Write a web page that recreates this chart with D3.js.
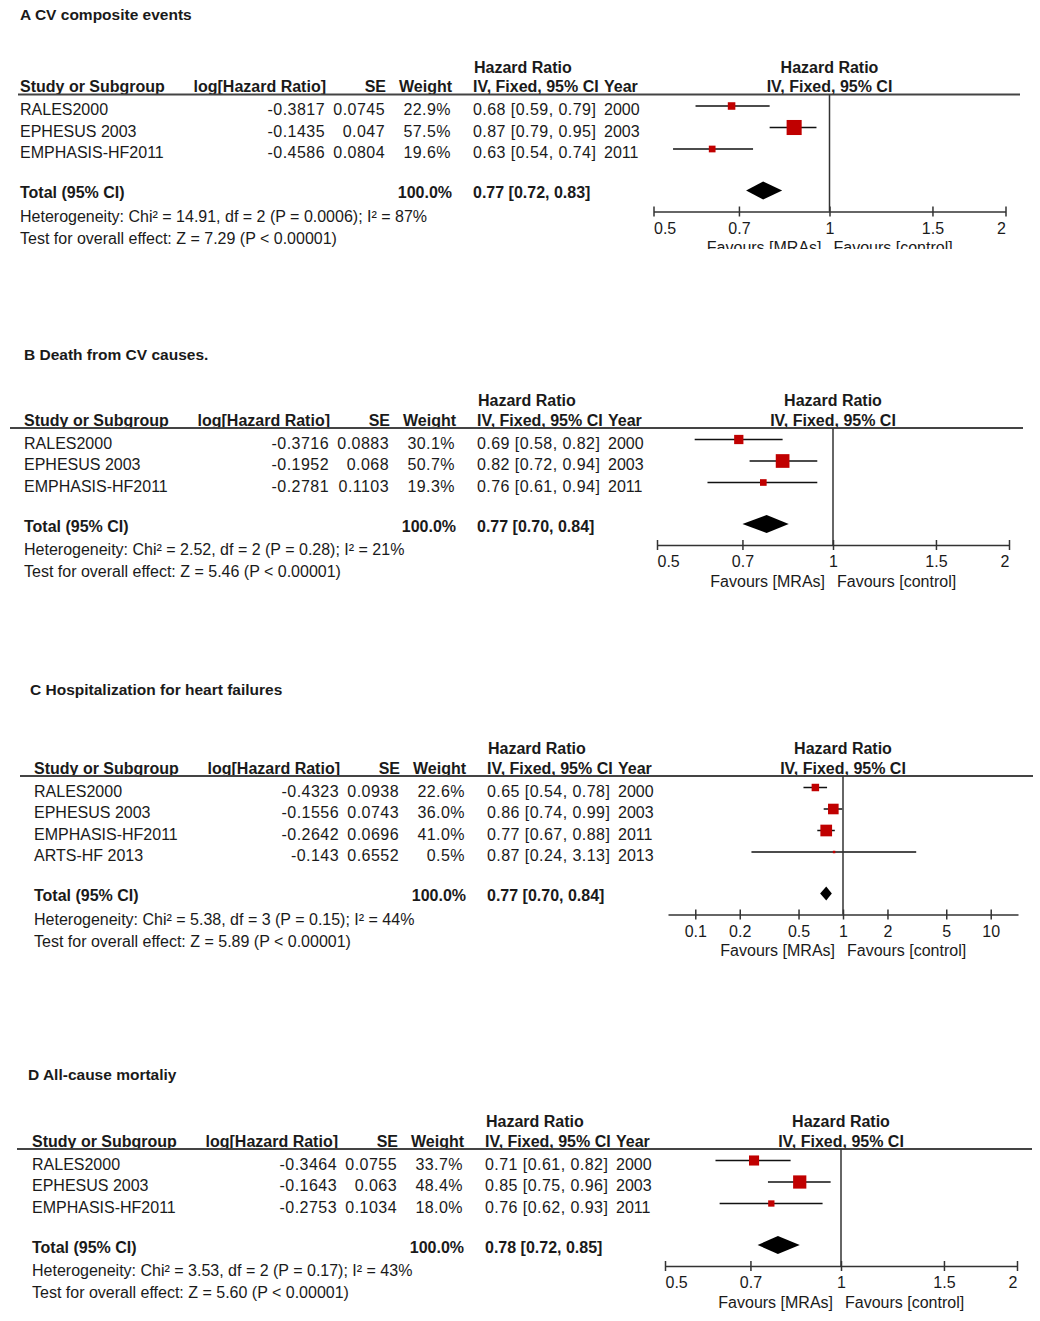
<!DOCTYPE html>
<html>
<head>
<meta charset="utf-8">
<script src="https://cdn.jsdelivr.net/npm/d3@7"></script>
<style>
  body { margin: 0; background: #fff; }
  svg { display: block; }
  text { font-family: "Liberation Sans", Arial, sans-serif; fill: #1a1a1a; }
</style>
</head>
<body>
<svg id="chart" width="1040" height="1321"></svg>
<script>
// ---------------- DATA ----------------
const panelTitles = ["A CV composite events", "B Death from CV causes.", "C Hospitalization for heart failures", "D All-cause mortaliy"];
const studyNames = [
  ["RALES2000", "EPHESUS 2003", "EMPHASIS-HF2011"],
  ["RALES2000", "EPHESUS 2003", "EMPHASIS-HF2011"],
  ["RALES2000", "EPHESUS 2003", "EMPHASIS-HF2011", "ARTS-HF 2013"],
  ["RALES2000", "EPHESUS 2003", "EMPHASIS-HF2011"]
];
const logHR = [
  ["-0.3817", "-0.1435", "-0.4586"],
  ["-0.3716", "-0.1952", "-0.2781"],
  ["-0.4323", "-0.1556", "-0.2642", "-0.143"],
  ["-0.3464", "-0.1643", "-0.2753"]
];
const seVals = [
  ["0.0745", "0.047", "0.0804"],
  ["0.0883", "0.068", "0.1103"],
  ["0.0938", "0.0743", "0.0696", "0.6552"],
  ["0.0755", "0.063", "0.1034"]
];
const weights = [
  [22.9, 57.5, 19.6],
  [30.1, 50.7, 19.3],
  [22.6, 36.0, 41.0, 0.5],
  [33.7, 48.4, 18.0]
];
const hrVals = [
  [0.68, 0.87, 0.63],
  [0.69, 0.82, 0.76],
  [0.65, 0.86, 0.77, 0.87],
  [0.71, 0.85, 0.76]
];
const ciLow = [
  [0.59, 0.79, 0.54],
  [0.58, 0.72, 0.61],
  [0.54, 0.74, 0.67, 0.24],
  [0.61, 0.75, 0.62]
];
const ciHigh = [
  [0.79, 0.95, 0.74],
  [0.82, 0.94, 0.94],
  [0.78, 0.99, 0.88, 3.13],
  [0.82, 0.96, 0.93]
];
const years = [
  [2000, 2003, 2011],
  [2000, 2003, 2011],
  [2000, 2003, 2011, 2013],
  [2000, 2003, 2011]
];
const totalHR = [0.77, 0.77, 0.77, 0.78];
const totalLow = [0.72, 0.70, 0.70, 0.72];
const totalHigh = [0.83, 0.84, 0.84, 0.85];
const heterogeneity = [
  "Heterogeneity: Chi² = 14.91, df = 2 (P = 0.0006); I² = 87%",
  "Heterogeneity: Chi² = 2.52, df = 2 (P = 0.28); I² = 21%",
  "Heterogeneity: Chi² = 5.38, df = 3 (P = 0.15); I² = 44%",
  "Heterogeneity: Chi² = 3.53, df = 2 (P = 0.17); I² = 43%"
];
const overallEffect = [
  "Test for overall effect: Z = 7.29 (P < 0.00001)",
  "Test for overall effect: Z = 5.46 (P < 0.00001)",
  "Test for overall effect: Z = 5.89 (P < 0.00001)",
  "Test for overall effect: Z = 5.60 (P < 0.00001)"
];
const axisTicks = [
  [0.5, 0.7, 1, 1.5, 2],
  [0.5, 0.7, 1, 1.5, 2],
  [0.1, 0.2, 0.5, 1, 2, 5, 10],
  [0.5, 0.7, 1, 1.5, 2]
];
const axisDomains = [[0.5, 2], [0.5, 2], [1 / 15.3, 15.3], [0.5, 2]];
const favourLabels = ["Favours [MRAs]", "Favours [control]"];

// ---------------- LAYOUT ----------------
const layout = [
  { x0: 20, titleX: 20, titleY: 19.5, R: 94.5, ruleX1: 18, ruleX2: 1020, px1: 653.5, px2: 1005.5, dh: 18, clip: 249 },
  { x0: 24, titleX: 24, titleY: 360, R: 428, ruleX1: 10, ruleX2: 1023, px1: 657, px2: 1009, dh: 18, clip: null },
  { x0: 34, titleX: 30, titleY: 694.5, R: 776, ruleX1: 20, ruleX2: 1033, px1: 668, px2: 1018, dh: 14, clip: null },
  { x0: 32, titleX: 28, titleY: 1080, R: 1149, ruleX1: 17, ruleX2: 1032, px1: 665, px2: 1017, dh: 18, clip: null }
];
const FS = 16;
const ROW = 21.5;
const NUMLS = 0.45; // letter spacing for regular numeric cells
const sq = d3.scalePow().exponent(0.75).domain([0, 100]).range([0, 22.8]);

const svg = d3.select("#chart");
const defs = svg.append("defs");

layout.forEach((L, p) => {
  let g = svg.append("g");
  if (L.clip) {
    defs.append("clipPath").attr("id", "clip" + p)
      .append("rect").attr("x", 0).attr("y", 0).attr("width", 1040).attr("height", L.clip);
    g.attr("clip-path", "url(#clip" + p + ")");
  }
  const x0 = L.x0, R = L.R;
  const cLog = x0 + 305, cSE = x0 + 365, cW = x0 + 431, cCI = x0 + 453, cYear = x0 + 584;

  // title
  g.append("text").attr("x", L.titleX).attr("y", L.titleY)
    .attr("font-size", 15.5).attr("font-weight", "bold").text(panelTitles[p]);

  // headers
  const hb = R - 22, hr = R - 2.5;
  g.append("text").attr("x", cCI + 1).attr("y", hb).attr("font-size", FS).attr("font-weight", "bold").text("Hazard Ratio");
  const hdr = [
    { t: "Study or Subgroup", x: x0, a: "start" },
    { t: "log[Hazard Ratio]", x: cLog + 1, a: "end" },
    { t: "SE", x: cSE + 1, a: "end" },
    { t: "Weight", x: cW + 1, a: "end" },
    { t: "IV, Fixed, 95% CI", x: cCI, a: "start" },
    { t: "Year", x: cYear, a: "start" }
  ];
  hdr.forEach(h => g.append("text").attr("x", h.x).attr("y", hr).attr("text-anchor", h.a)
    .attr("font-size", FS).attr("font-weight", "bold").text(h.t));

  const x = d3.scaleLog().domain(axisDomains[p]).range([L.px1, L.px2]);
  const ref = x(1);
  g.append("text").attr("x", ref).attr("y", hb).attr("text-anchor", "middle")
    .attr("font-size", FS).attr("font-weight", "bold").text("Hazard Ratio");
  g.append("text").attr("x", ref).attr("y", hr).attr("text-anchor", "middle")
    .attr("font-size", FS).attr("font-weight", "bold").text("IV, Fixed, 95% CI");

  // rule
  g.append("line").attr("x1", L.ruleX1).attr("x2", L.ruleX2).attr("y1", R).attr("y2", R)
    .attr("stroke", "#444").attr("stroke-width", 2);

  // rows
  const n = studyNames[p].length;
  const rowY = i => R + 20.5 + i * ROW;
  const num = (t, xx, y, anchor, bold) => g.append("text").attr("x", xx).attr("y", y)
    .attr("text-anchor", anchor).attr("font-size", FS).attr("letter-spacing", bold ? null : NUMLS)
    .attr("font-weight", bold ? "bold" : null).text(t);
  for (let i = 0; i < n; i++) {
    const y = rowY(i);
    g.append("text").attr("x", x0).attr("y", y).attr("font-size", FS).text(studyNames[p][i]);
    num(logHR[p][i], cLog, y, "end");
    num(seVals[p][i], cSE, y, "end");
    num(weights[p][i].toFixed(1) + "%", cW, y, "end");
    num(hrVals[p][i].toFixed(2) + " [" + ciLow[p][i].toFixed(2) + ", " + ciHigh[p][i].toFixed(2) + "]", cCI, y, "start");
    g.append("text").attr("x", cYear).attr("y", y).attr("font-size", FS).text(years[p][i]);

    const cy = y - 9;
    g.append("line").attr("x1", x(ciLow[p][i])).attr("x2", x(ciHigh[p][i]))
      .attr("y1", cy).attr("y2", cy).attr("stroke", "#111").attr("stroke-width", 1.5);
    const s = Math.max(2.5, sq(weights[p][i]));
    g.append("rect").attr("x", x(hrVals[p][i]) - s / 2).attr("y", cy - s / 2)
      .attr("width", s).attr("height", s).attr("fill", "#c00000");
  }

  // total
  const ty = rowY(n - 1) + 40;
  g.append("text").attr("x", x0).attr("y", ty).attr("font-size", FS).attr("font-weight", "bold").text("Total (95% CI)");
  num("100.0%", cW + 1, ty, "end", true);
  num(totalHR[p].toFixed(2) + " [" + totalLow[p].toFixed(2) + ", " + totalHigh[p].toFixed(2) + "]", cCI, ty, "start", true);
  g.append("text").attr("x", x0).attr("y", ty + 23.5).attr("font-size", FS).text(heterogeneity[p]);
  g.append("text").attr("x", x0).attr("y", ty + 45.5).attr("font-size", FS).text(overallEffect[p]);

  const dy = ty - 7.5, dh = L.dh / 2;
  g.append("path")
    .attr("d", `M${x(totalLow[p])},${dy} L${x(totalHR[p])},${dy - dh} L${x(totalHigh[p])},${dy} L${x(totalHR[p])},${dy + dh} Z`)
    .attr("fill", "#000");

  // axis
  const ay = ty + 13.5;
  g.append("line").attr("x1", ref).attr("x2", ref).attr("y1", R).attr("y2", ay)
    .attr("stroke", "#333").attr("stroke-width", 1.5);
  const dom = axisDomains[p];
  const ax = g.append("g").attr("transform", `translate(0,${ay})`)
    .call(d3.axisBottom(x).tickValues(axisTicks[p]).tickFormat(d => String(d)).tickSizeOuter(0).tickSizeInner(5));
  ax.attr("font-size", null).attr("font-family", null);
  ax.select(".domain").attr("stroke", "#333").attr("stroke-width", 1.5);
  ax.selectAll(".tick line").attr("y1", -5).attr("y2", 5).attr("stroke", "#333").attr("stroke-width", 1.5);
  ax.selectAll(".tick text").attr("y", 22).attr("dy", null).attr("font-size", FS).attr("fill", "#1a1a1a")
    .attr("text-anchor", d => d === dom[0] ? "start" : (d === dom[1] ? "end" : "middle"));

  g.append("text").attr("x", ref - 8).attr("y", ay + 41.5).attr("text-anchor", "end").attr("font-size", FS).text(favourLabels[0]);
  g.append("text").attr("x", ref + 4).attr("y", ay + 41.5).attr("font-size", FS).text(favourLabels[1]);
});
</script>
</body>
</html>
